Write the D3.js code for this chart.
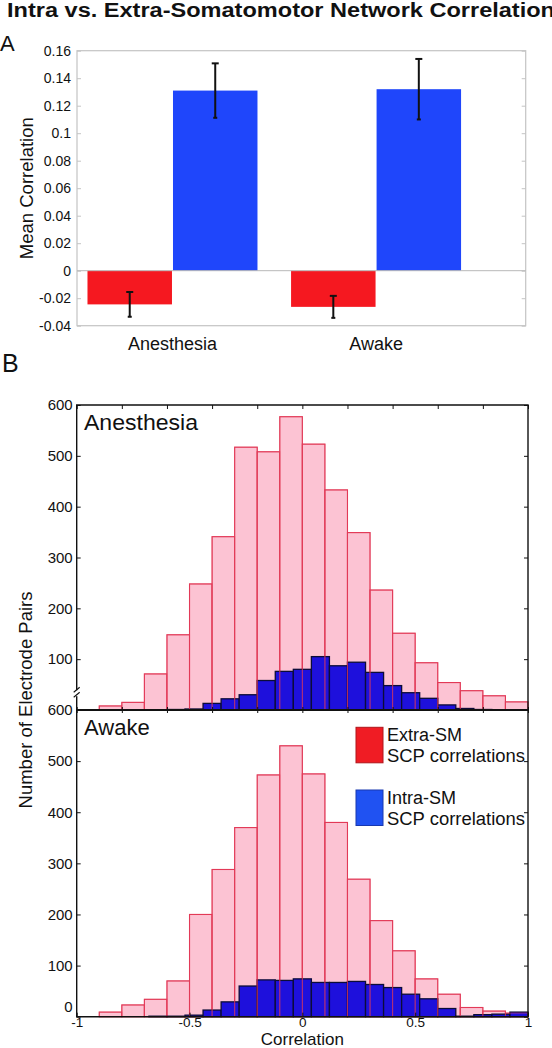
<!DOCTYPE html>
<html><head><meta charset="utf-8">
<script src="https://cdn.jsdelivr.net/npm/d3@7/dist/d3.min.js"></script>
<style>
body{margin:0;background:#fff}
svg{display:block}
text{font-family:"Liberation Sans",Arial,Helvetica,sans-serif;fill:#111}
</style>
</head><body>
<svg id="c" width="552" height="1048"></svg>
<script>
// ---------- Panel A data ----------
const categories = ["Anesthesia", "Awake"];
const categoryPos = [1, 2];
const extraMean = [-0.0245, -0.0263];
const extraErr  = [0.009, 0.008];
const intraMean = [0.131, 0.132];
const intraErr  = [0.0198, 0.022];
const barTicks = [-0.04, -0.02, 0, 0.02, 0.04, 0.06, 0.08, 0.1, 0.12, 0.14, 0.16];
const barTickLabels = ["-0.04", "-0.02", "0", "0.02", "0.04", "0.06", "0.08", "0.1", "0.12", "0.14", "0.16"];

// ---------- Panel B data ----------
const extraBinCenters = [-0.95,-0.85,-0.75,-0.65,-0.55,-0.45,-0.35,-0.25,-0.15,-0.05,0.05,0.15,0.25,0.35,0.45,0.55,0.65,0.75,0.85,0.95];
const intraBinCenters = [-0.96,-0.88,-0.80,-0.72,-0.64,-0.56,-0.48,-0.40,-0.32,-0.24,-0.16,-0.08,0,0.08,0.16,0.24,0.32,0.40,0.48,0.56,0.64,0.72,0.80,0.88,0.96];
const anesExtra  = [0, 8, 15, 71, 148, 248, 341, 517, 508, 577, 523, 433, 349, 236, 151, 93, 54, 38, 28, 16];
const anesIntra  = [0, 0, 0, 0, 0, 1, 2, 13, 22, 30, 58, 76, 80, 105, 87, 94, 74, 48, 34, 23, 10, 3, 1, 0, 0];
const awakeExtra = [0, 9, 23, 34, 70, 200, 288, 370, 473, 530, 475, 380, 269, 188, 129, 74, 44, 18, 11, 7];
const awakeIntra = [0, 0, 0, 0, 1, 1, 3, 13, 29, 60, 72, 71, 74, 67, 67, 69, 63, 57, 44, 35, 16, 1, 4, 5, 9];
const extraBinWidth = 0.1;
const intraBinWidth = 0.08;
const countTicks = [0, 100, 200, 300, 400, 500, 600];
const corrTicks = [-1, -0.5, 0, 0.5, 1];
const corrTickLabels = ["-1", "-0.5", "0", "0.5", "1"];
const corrMinorTicks = [-1, -0.8, -0.6, -0.4, -0.2, 0, 0.2, 0.4, 0.6, 0.8, 1];
const legendItems = [
  {name: "Extra-SM", sub: "SCP correlations"},
  {name: "Intra-SM", sub: "SCP correlations"}
];

const svg = d3.select("#c");

// ---------- Title & panel letters ----------
svg.append("text").attr("x", 7).attr("y", 17)
  .attr("font-size", 20).attr("font-weight", "bold")
  .attr("textLength", 548).attr("lengthAdjust", "spacingAndGlyphs")
  .text("Intra vs. Extra-Somatomotor Network Correlation");
svg.append("text").attr("x", 0).attr("y", 51).attr("font-size", 22).text("A");
svg.append("text").attr("x", 2).attr("y", 372).attr("font-size", 25).text("B");

// ---------- Panel A ----------
const ax = d3.scaleLinear().domain([0.531, 2.735]).range([77, 525.7]);
const ay = d3.scaleLinear().domain([-0.04, 0.16]).range([325.7, 50.7]);
const gA = svg.append("g");
const barW = 0.415, off = 0.21;
const aFrameColor = "#c4c4c4";

gA.append("rect").attr("x", ax.range()[0]).attr("y", ay.range()[1])
  .attr("width", ax.range()[1] - ax.range()[0]).attr("height", ay.range()[0] - ay.range()[1])
  .attr("fill", "none").attr("stroke", aFrameColor).attr("stroke-width", 1.2);

const aLeft = gA.append("g").attr("transform", `translate(${ax.range()[0]},0)`)
  .call(d3.axisLeft(ay).tickValues(barTicks).tickFormat((d, i) => barTickLabels[i]).tickSize(-4).tickPadding(6));
aLeft.select(".domain").remove();
aLeft.selectAll("line").attr("stroke", aFrameColor);
aLeft.selectAll("text").attr("font-size", 14).attr("fill", "#222");
const aRight = gA.append("g").attr("transform", `translate(${ax.range()[1]},0)`)
  .call(d3.axisRight(ay).tickValues(barTicks).tickFormat("").tickSize(-4));
aRight.select(".domain").remove();
aRight.selectAll("line").attr("stroke", aFrameColor);

const aData = categories.map((c, i) => ({c, p: categoryPos[i], em: extraMean[i], ee: extraErr[i], im: intraMean[i], ie: intraErr[i]}));
function bar(p, v, color) {
  gA.append("rect")
    .attr("x", ax(p - barW / 2)).attr("width", ax(p + barW / 2) - ax(p - barW / 2))
    .attr("y", ay(Math.max(0, v))).attr("height", Math.abs(ay(v) - ay(0)))
    .attr("fill", color);
}
function err(p, v, e) {
  const g = gA.append("g").attr("stroke", "#111").attr("stroke-width", 2);
  g.append("line").attr("x1", ax(p)).attr("x2", ax(p)).attr("y1", ay(v + e)).attr("y2", ay(v - e));
  g.append("line").attr("x1", ax(p) - 3.5).attr("x2", ax(p) + 3.5).attr("y1", ay(v + e)).attr("y2", ay(v + e));
  g.append("line").attr("x1", ax(p) - 2).attr("x2", ax(p) + 2).attr("y1", ay(v - e)).attr("y2", ay(v - e));
}
aData.forEach(d => {
  bar(d.p - off, d.em, "#f51820");
  bar(d.p + off, d.im, "#1f46fb");
});
gA.append("line").attr("x1", ax.range()[0]).attr("x2", ax.range()[1])
  .attr("y1", ay(0)).attr("y2", ay(0)).attr("stroke", "#b8b8b8").attr("stroke-width", 1);
aData.forEach(d => {
  err(d.p - off, d.em, d.ee);
  err(d.p + off, d.im, d.ie);
});
gA.selectAll(".cat").data(aData).join("text").attr("class", "cat")
  .attr("x", d => ax(d.p)).attr("y", 350).attr("text-anchor", "middle")
  .attr("font-size", 18).text(d => d.c);
svg.append("text").attr("transform", `translate(33,${(ay.range()[0] + ay.range()[1]) / 2}) rotate(-90)`)
  .attr("text-anchor", "middle").attr("font-size", 18.5).text("Mean Correlation");

// ---------- Panel B ----------
const hx = d3.scaleLinear().domain([-1, 1]).range([76.7, 528]);
const yTop = d3.scaleLinear().domain([0, 600]).range([710, 405]);
const yBot = d3.scaleLinear().domain([0, 600]).range([1016.7, 710]);
const pinkFill = "#fcc3d3", pinkEdge = "#e23a58";
const navyFill = "#1e10dc", navyEdge = "#0c0c38";

function histogram(g, y, extra, intra) {
  const ex = extraBinCenters.map((c, i) => ({c, v: extra[i]})).filter(d => d.v > 0);
  const inn = intraBinCenters.map((c, i) => ({c, v: intra[i]})).filter(d => d.v > 0);
  g.selectAll(".pf").data(ex).join("rect").attr("class", "pf")
    .attr("x", d => hx(d.c - extraBinWidth / 2)).attr("width", d => hx(d.c + extraBinWidth / 2) - hx(d.c - extraBinWidth / 2))
    .attr("y", d => y(d.v)).attr("height", d => y(0) - y(d.v))
    .attr("fill", pinkFill).attr("stroke", pinkEdge).attr("stroke-width", 1.1);
  g.selectAll(".nb").data(inn).join("rect").attr("class", "nb")
    .attr("x", d => hx(d.c - intraBinWidth / 2)).attr("width", d => hx(d.c + intraBinWidth / 2) - hx(d.c - intraBinWidth / 2))
    .attr("y", d => y(d.v)).attr("height", d => y(0) - y(d.v))
    .attr("fill", navyFill).attr("stroke", navyEdge).attr("stroke-width", 1.3);
  g.selectAll(".pe").data(ex).join("rect").attr("class", "pe")
    .attr("x", d => hx(d.c - extraBinWidth / 2)).attr("width", d => hx(d.c + extraBinWidth / 2) - hx(d.c - extraBinWidth / 2))
    .attr("y", d => y(d.v)).attr("height", d => y(0) - y(d.v))
    .attr("fill", "none").attr("stroke", pinkEdge).attr("stroke-width", 1).attr("stroke-opacity", 0.55);
}

const gTop = svg.append("g");
const gBot = svg.append("g");
histogram(gTop, yTop, anesExtra, anesIntra);
histogram(gBot, yBot, awakeExtra, awakeIntra);

function styleAxis(sel, fs) {
  sel.select(".domain").remove();
  sel.selectAll("line").attr("stroke", "#111").attr("stroke-width", 1);
  sel.selectAll("text").attr("font-size", fs).attr("fill", "#222");
}
styleAxis(gTop.append("g").attr("transform", `translate(${hx.range()[0]},0)`)
  .call(d3.axisLeft(yTop).tickValues(countTicks.slice(1)).tickSize(-4).tickPadding(4)), 15);
styleAxis(gTop.append("g").attr("transform", `translate(${hx.range()[1]},0)`)
  .call(d3.axisRight(yTop).tickValues(countTicks.slice(1)).tickFormat("").tickSize(-4)), 15);
styleAxis(gTop.append("g").attr("transform", `translate(0,${yTop.range()[1]})`)
  .call(d3.axisBottom(hx).tickValues(corrMinorTicks).tickFormat("").tickSize(4)), 14);
styleAxis(gTop.append("g").attr("transform", `translate(0,${yTop.range()[0]})`)
  .call(d3.axisTop(hx).tickValues(corrMinorTicks).tickFormat("").tickSize(3)), 14);
const botLeft = gBot.append("g").attr("transform", `translate(${hx.range()[0]},0)`)
  .call(d3.axisLeft(yBot).tickValues(countTicks).tickSize(-4).tickPadding(4));
styleAxis(botLeft, 15);
botLeft.selectAll(".tick").filter(d => d === 0).select("text").attr("dy", "-0.35em");
styleAxis(gBot.append("g").attr("transform", `translate(${hx.range()[1]},0)`)
  .call(d3.axisRight(yBot).tickValues(countTicks).tickFormat("").tickSize(-4)), 15);
styleAxis(gBot.append("g").attr("transform", `translate(0,${yBot.range()[1]})`)
  .call(d3.axisBottom(hx).tickValues(corrMinorTicks).tickFormat("").tickSize(3)), 14);
styleAxis(gBot.append("g").attr("transform", `translate(0,${yBot.range()[0]})`)
  .call(d3.axisBottom(hx).tickValues(corrTicks).tickFormat((d, i) => corrTickLabels[i]).tickSize(-4).tickPadding(1)), 13.5);

const fr = svg.append("g").attr("fill", "none").attr("stroke", "#111").attr("stroke-width", 1.4);
fr.append("path").attr("d", `M${hx.range()[0]},${yTop.range()[0]}V${yTop.range()[1]}H${hx.range()[1]}V${yBot.range()[0]}H${hx.range()[0]}V${yTop.range()[0]}`);
fr.append("line").attr("x1", hx.range()[0]).attr("x2", hx.range()[1])
  .attr("y1", yTop.range()[0]).attr("y2", yTop.range()[0]).attr("stroke-width", 1.8);

const brk = svg.append("g").attr("stroke", "#111").attr("stroke-width", 1.1);
const by = yTop(33);
brk.append("rect").attr("x", hx.range()[0] - 2).attr("y", by - 3).attr("width", 4).attr("height", 6).attr("fill", "#fff").attr("stroke", "none");
brk.append("line").attr("x1", hx.range()[0] - 3).attr("y1", by - 1).attr("x2", hx.range()[0] + 3).attr("y2", by - 6);
brk.append("line").attr("x1", hx.range()[0] - 3).attr("y1", by + 4).attr("x2", hx.range()[0] + 3).attr("y2", by - 1);

svg.append("text").attr("x", 84).attr("y", 430).attr("font-size", 22).attr("textLength", 114).attr("lengthAdjust", "spacingAndGlyphs").text("Anesthesia");
svg.append("text").attr("x", 84).attr("y", 735).attr("font-size", 22).text("Awake");

svg.append("text").attr("transform", `translate(32,700) rotate(-90)`)
  .attr("text-anchor", "middle").attr("font-size", 18.5).text("Number of Electrode Pairs");
svg.append("text").attr("x", hx(0)).attr("y", 1045).attr("text-anchor", "middle")
  .attr("font-size", 17).text("Correlation");

const legColors = [{f: "#f01c24", s: "#b0141a"}, {f: "#2052f2", s: "#1838b0"}];
const lg = svg.append("g");
legendItems.forEach((d, i) => {
  const y0 = 727.3 + i * 62.7;
  lg.append("rect").attr("x", 356).attr("y", y0).attr("width", 27).attr("height", 35.5)
    .attr("fill", legColors[i].f).attr("stroke", legColors[i].s).attr("stroke-width", 1);
  lg.append("text").attr("x", 387).attr("y", y0 + 13.5).attr("font-size", 18).text(d.name);
  lg.append("text").attr("x", 387).attr("y", y0 + 34.5).attr("font-size", 18)
    .attr("textLength", 138).attr("lengthAdjust", "spacingAndGlyphs").text(d.sub);
});
</script>
</body></html>
